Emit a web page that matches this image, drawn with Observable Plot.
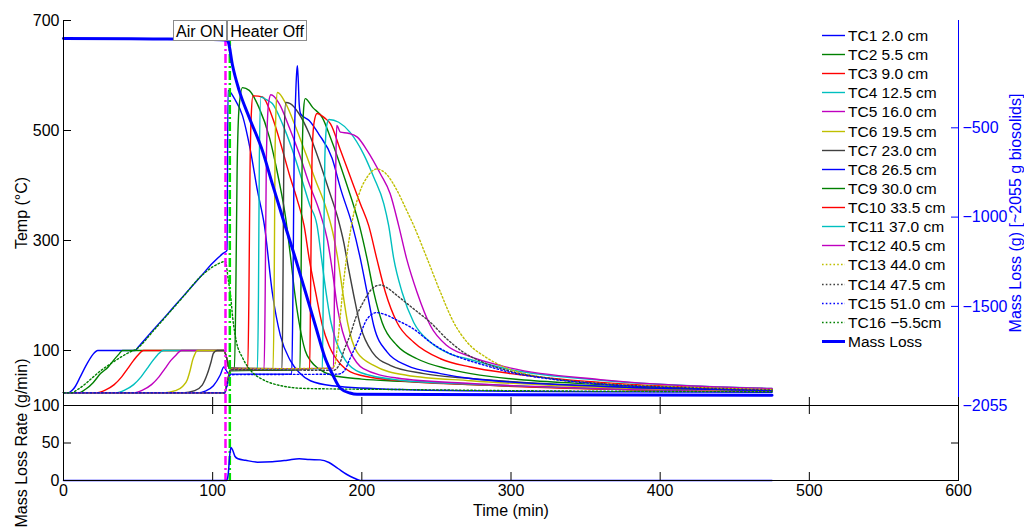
<!DOCTYPE html>
<html><head><meta charset="utf-8">
<script src="https://cdn.jsdelivr.net/npm/d3@7"></script>
<script src="https://cdn.jsdelivr.net/npm/@observablehq/plot@0.6"></script>
<style>
body{margin:0;background:#fff;}
#wrap{position:relative;width:1024px;height:529px;overflow:hidden;font-family:"Liberation Sans",Arial,Helvetica,sans-serif;}
#wrap svg{position:absolute;left:0;top:0;}
.box{position:absolute;top:20px;height:21px;line-height:21px;font-size:16px;padding:0 2px;border:1px solid #8c8c8c;background:#fff;color:#000;white-space:nowrap;box-sizing:border-box;}
.leg{position:absolute;left:822px;top:0;font-size:15.5px;color:#000;}
.leg div{position:absolute;left:0;height:19px;white-space:nowrap;}
.leg svg{position:absolute;left:0;top:0;}
.leg span{position:absolute;left:26px;top:0;line-height:19px;}
</style></head><body><div id="wrap"></div>
<script>
// ---------- data ----------
const timeTicks = [0, 100, 200, 300, 400, 500, 600];
const tempTicks = [100, 300, 500, 700];
const rateTicks = [0, 50, 100];
const massTicks = [-500, -1000, -1500, -2055];
const airOnTime = 108.6, heaterOffTime = 111.5;
const tcNames = ["TC1 2.0 cm","TC2 5.5 cm","TC3 9.0 cm","TC4 12.5 cm","TC5 16.0 cm","TC6 19.5 cm","TC7 23.0 cm","TC8 26.5 cm","TC9 30.0 cm","TC10 33.5 cm","TC11 37.0 cm","TC12 40.5 cm","TC13 44.0 cm","TC14 47.5 cm","TC15 51.0 cm","TC16 \u22125.5cm"];

const tc1 = [[0,23],[3,23],[6,28],[8,35],[11.4,53],[14,67],[16,77],[19.5,92],[23,100],[48,100],[50,106],[60,137],[70,167],[80,198],[91.8,234],[100,259],[107.2,277],[109.6,282],[110.3,573],[114.6,558],[120,527],[125.3,464],[130,391],[134.7,327],[140,205],[145.4,127],[152,82],[158,60],[165.5,45],[180,36],[226,29],[300,26],[360,25],[475,24]];
const tc2 = [[0,23],[10,23],[15,30],[20,42],[24.8,58],[30,70],[33.5,82],[37,93],[39.5,100],[107.5,100],[109.5,85],[111,68],[114.6,67],[115.5,200],[116.4,430],[117.8,545],[120,578],[124.5,573],[131,542],[138,488],[144,415],[149,340],[152,275],[155,205],[158,150],[162,100],[166,80],[171,67],[180,55],[200,48],[226,44],[273,38],[360,30],[475,26]];
const tc3 = [[0,23],[22,23],[28,28],[34,38],[39,52],[43,67],[47,82],[50,92],[53.6,100],[107.5,100],[109.5,85],[111,68],[123.5,67],[124.3,200],[125,420],[125.9,530],[127,563],[133.4,561],[140,524],[145.6,476],[151.3,421],[156.8,373],[161.3,327],[164.7,267],[169,206],[173.6,145],[178,109],[185.7,75],[199,55],[226,45],[273,38],[360,30],[475,26]];
const tc4 = [[0,23],[35,23],[41,28],[47,38],[52,52],[56,67],[60,82],[63,92],[67,100],[107.5,100],[109.5,85],[111,68],[130,67],[130.7,200],[131.3,450],[132.3,561],[136,556],[140,549],[146.8,512],[153.5,464],[160,409],[165,365],[170,327],[173,267],[176,206],[179,155],[183,115],[189,82],[199,60],[226,46],[273,39],[360,31],[475,26]];
const tc5 = [[0,23],[47,23],[53,28],[59,38],[64,52],[68,67],[72,82],[75.5,92],[79,100],[107.5,100],[109.5,85],[111,68],[134.5,67],[135.2,200],[136,450],[137.5,550],[139,565],[144.6,549],[151.3,506],[158,458],[164.7,403],[171.4,355],[177,300],[180.5,240],[183.5,180],[187,135],[192.4,97],[201,67],[223.6,50],[273,40],[360,31],[475,26]];
const tc6 = [[0,23],[67,23],[75,27],[80,35],[83,47],[85,65],[86.5,82],[88,93],[89.8,100],[107.5,100],[109.5,85],[111,68],[140.5,67],[141.2,200],[141.8,450],[142.5,540],[143.4,569],[149,549],[155.7,506],[162.4,458],[169,409],[175.8,361],[180.5,315],[184,265],[187,210],[190.5,150],[196.8,97],[208,73],[230,55],[273,45],[360,33],[475,27]];
const tc7 = [[0,23],[80,23],[88,27],[93,37],[96.5,58],[99,80],[100.5,95],[103,100],[107.5,100],[109.5,85],[111,68],[146.5,67],[147.2,250],[147.8,480],[149,551],[152,549],[158,530],[164.7,494],[171.4,445],[178,391],[184,340],[188,295],[191,250],[194.6,200],[199,145],[207,97],[219,73],[241.5,58],[273,49],[360,35],[475,28]];
const tc8 = [[0,23],[90,23],[95,26],[100.5,36],[105,55],[107.5,70],[109.5,62],[111,57],[153,57],[153.8,200],[154.6,450],[155.6,560],[156.3,605],[156.8,618],[157.4,590],[158,548],[159,530],[164.7,518],[171,494],[180,450],[186,392],[193.7,327],[199,267],[203.5,206],[208,145],[217,97],[230,73],[252.7,58],[273,49],[360,35],[475,28]];
const tc9 = [[0,23],[108,23],[110,45],[112,63],[158.5,65],[159.3,250],[160,450],[161,540],[162,558],[167,542],[173.6,523],[179,487],[189,409],[198.4,327],[203.5,267],[208,206],[213.6,151],[223.6,109],[237,85],[257,67],[273,58],[360,38],[475,29]];
const tc10 = [[0,23],[108,23],[110,45],[112,65],[165,66],[165.8,250],[166.6,450],[168,515],[170,531],[175,523],[179,512],[185.7,464],[192.4,415],[199,367],[204.6,327],[210,267],[215.8,206],[223.6,151],[234.8,115],[252.7,85],[272.8,70],[300,58],[360,42],[475,30]];
const tc11 = [[0,23],[108,23],[110,45],[112,65],[173.5,67],[174.3,250],[175.2,450],[176.5,510],[178,520],[184.5,515],[192,497],[201,458],[208,415],[214.7,367],[218,327],[221.4,267],[227,206],[234.8,151],[246,115],[259,94],[270.6,85],[300,65],[360,46],[475,31]];
const tc12 = [[0,23],[108,23],[110,45],[112,66],[181,68],[181.8,250],[182.6,450],[183.2,509],[185.6,497],[191,495],[197,488],[203.5,464],[212.5,421],[219,385],[224.7,327],[230,267],[237,206],[246,145],[257,109],[270.6,91],[300,68],[360,47],[475,31]];
const tc13 = [[0,23],[108,23],[110,45],[112,66],[180,68],[182,75],[184,120],[188,230],[193,327],[199,391],[203.5,415],[210,430],[216,422],[223.6,391],[230,355],[234.8,327],[243.8,267],[252.7,206],[261.6,151],[270.6,115],[283,88],[293,73],[326,49],[360,40],[420,33],[475,29]];
const tc14 = [[0,23],[108,23],[110,45],[112,65],[181,64],[185,75],[188,100],[192,127],[196,160],[201,188],[208,215],[212.5,219],[217,214],[223.6,200],[234.6,176],[246,151],[257,121],[268,97],[280,80],[300,62],[330,48],[360,40],[420,32],[475,28]];
const tc15 = [[0,23],[108,23],[110,40],[112,56],[184,57],[188,62],[192,85],[197,115],[203.5,157],[210,169],[215,166],[223.6,155],[234.8,139],[246,115],[257,97],[268,85],[280,75],[300,60],[330,47],[360,39],[420,31],[475,27]];
const tc16 = [[0,23],[5,23],[10,30],[15,40],[20,52],[24.8,63],[30,73],[35,82],[42.9,95],[49.6,104],[60,135],[70,166],[80,197],[91.8,234],[100,252],[104,258],[108.5,262],[110.5,228],[112,200],[113.5,158],[116,115],[120,87],[126.7,60],[133,48],[140,40],[162,31],[226,29],[300,27],[475,25]];

// mass loss (g) vs time (min)
const massLoss = [[0,0],[60,-2],[100,-5],[109.5,-8],[110.5,-20],[113.3,-150],[117.8,-292],[124.5,-442],[133.4,-629],[140,-814],[147.9,-1030],[155.7,-1237],[162.4,-1425],[169,-1611],[175.8,-1799],[180.3,-1880],[185.7,-1960],[192,-1985],[196.8,-1992],[300,-1995],[475,-1997]];
// mass loss rate (g/min) vs time (min)
const massLossRate = [[0,0],[109.5,0],[110.5,10],[111.5,35],[112.3,44],[113.5,40],[115,32],[117,29],[122,27],[130,24.5],[140,25],[150,27],[158,29],[165,28],[172,27.5],[178,24],[184,16],[190,8],[195,3],[199,0],[475,0]];

// ---------- styles ----------
const tcSeries = [tc1,tc2,tc3,tc4,tc5,tc6,tc7,tc8,tc9,tc10,tc11,tc12,tc13,tc14,tc15,tc16];
const base = ["#0000ff","#008000","#ff0000","#00bfbf","#bf00bf","#bfbf00","#404040"];
const tcColors = tcSeries.map((_, i) => base[i % 7]);
const tcDash = tcSeries.map((_, i) => i >= 12 ? "1.6,2.2" : null);
const BLUE = "#0000ff";
const FONT = "'Liberation Sans', Arial, Helvetica, sans-serif";

// right-axis mapping: mass domain [-2055, 101] onto temperature domain [0, 700]
const mLo = -2055, mHi = 101;
const toT = m => (m - mLo) / (mHi - mLo) * 700;
const fromT = t => t / 700 * (mHi - mLo) + mLo;

const W = 1024, H = 529, ML = 63, MR = 66;
const topPanelBottom = 405, bottomPanelBottom = 480;

const topChart = Plot.plot({
  width: W, height: H,
  marginLeft: ML, marginRight: MR, marginTop: 20, marginBottom: H - topPanelBottom,
  x: {domain: [0, 600], axis: null},
  y: {domain: [0, 700], axis: null},
  style: {background: "white", fontFamily: FONT, overflow: "visible"},
  marks: [
    ...tcSeries.map((s, i) => Plot.line(s, {x: d => d[0], y: d => d[1], stroke: tcColors[i], strokeWidth: 1.4, strokeDasharray: tcDash[i], curve: "monotone-x"})),
    Plot.ruleX([airOnTime], {stroke: "#ff00ff", strokeWidth: 2.5, strokeDasharray: "9,3,2,3"}),
    Plot.ruleX([heaterOffTime], {stroke: "#00e000", strokeWidth: 2.5, strokeDasharray: "9,3,2,3"}),
    Plot.line(massLoss, {x: d => d[0], y: d => toT(d[1]), stroke: BLUE, strokeWidth: 3, curve: "monotone-x"}),
    Plot.ruleX([0], {stroke: "black"}),
    Plot.ruleX([600], {stroke: BLUE}),
    Plot.ruleY([0], {stroke: "black"}),
    Plot.axisY(tempTicks, {anchor: "left", tickSize: 8, dx: 8, tickPadding: 4, fontSize: 16, label: null}),
    Plot.axisY(massTicks.map(toT), {anchor: "right", tickSize: 8, dx: -8, tickPadding: 4, fontSize: 16, color: BLUE, label: null,
      tickFormat: d => String(Math.round(fromT(d))).replace("-", "\u2212")}),
    Plot.axisX(timeTicks, {anchor: "bottom", tickSize: 8, dy: -8, fill: "none", label: null}),
    Plot.text(["Temp (\u00b0C)"], {text: d => d, frameAnchor: "left", textAnchor: "middle", lineAnchor: "middle", dx: -42, rotate: -90, fontSize: 16}),
    Plot.text(["Mass Loss (g) [~2055 g biosolids]"], {text: d => d, frameAnchor: "right", textAnchor: "middle", lineAnchor: "middle", dx: 57, rotate: -90, fontSize: 16, fill: BLUE})
  ]
});

const bottomChart = Plot.plot({
  width: W, height: H,
  marginLeft: ML, marginRight: MR, marginTop: topPanelBottom, marginBottom: H - bottomPanelBottom,
  x: {domain: [0, 600], axis: null},
  y: {domain: [0, 100], axis: null},
  style: {background: "transparent", fontFamily: FONT, overflow: "visible"},
  marks: [
    Plot.ruleX([airOnTime], {stroke: "#ff00ff", strokeWidth: 2.5, strokeDasharray: "9,3,2,3"}),
    Plot.ruleX([heaterOffTime], {stroke: "#00e000", strokeWidth: 2.5, strokeDasharray: "9,3,2,3"}),
    Plot.line(massLossRate, {x: d => d[0], y: d => d[1], stroke: BLUE, strokeWidth: 1.5, curve: "monotone-x"}),
    Plot.ruleX([0], {stroke: "black"}),
    Plot.ruleX([600], {stroke: "black"}),
    Plot.ruleY([0], {stroke: "black"}),
    Plot.ruleY([100], {stroke: "black"}),
    Plot.axisY(rateTicks, {anchor: "left", tickSize: 8, dx: 8, tickPadding: 4, fontSize: 16, label: null}),
    Plot.axisY(rateTicks, {anchor: "right", tickSize: 8, dx: -8, fill: "none", label: null}),
    Plot.axisX(timeTicks, {anchor: "bottom", tickSize: 8, dy: -8, tickPadding: 4, fontSize: 16, label: null}),
    Plot.axisX(timeTicks, {anchor: "top", tickSize: 8, dy: 8, fill: "none", label: null}),
    Plot.text(["Time (min)"], {text: d => d, frameAnchor: "bottom", textAnchor: "middle", lineAnchor: "middle", dy: 30, fontSize: 16}),
    Plot.text(["Mass Loss Rate (g/min)"], {text: d => d, frameAnchor: "left", textAnchor: "middle", lineAnchor: "middle", dx: -42, rotate: -90, fontSize: 16})
  ]
});

const wrap = document.getElementById("wrap");
wrap.appendChild(topChart);
wrap.appendChild(bottomChart);

// annotation boxes anchored on the event times via the x scale
const xs = topChart.scale("x");
const airBox = document.createElement("div");
airBox.className = "box"; airBox.textContent = "Air ON";
airBox.style.right = (W - (xs.apply(airOnTime) + 2)) + "px";
wrap.appendChild(airBox);
const heatBox = document.createElement("div");
heatBox.className = "box"; heatBox.textContent = "Heater Off";
heatBox.style.left = (xs.apply(heaterOffTime) - 2) + "px";
wrap.appendChild(heatBox);

// legend
const leg = document.createElement("div");
leg.className = "leg";
const entries = tcNames.map((n, i) => ({name: n, color: tcColors[i], dash: tcDash[i], w: 1.4}))
  .concat([{name: "Mass Loss", color: BLUE, dash: null, w: 3}]);
entries.forEach((e, i) => {
  const row = document.createElement("div");
  row.style.top = (26 + i * 19.12) + "px";
  row.innerHTML = `<svg width="24" height="19"><line x1="0" x2="23" y1="9.5" y2="9.5" stroke="${e.color}" stroke-width="${e.w}" ${e.dash ? `stroke-dasharray="${e.dash}"` : ""}/></svg><span>${e.name}</span>`;
  leg.appendChild(row);
});
wrap.appendChild(leg);
</script>
</body></html>
